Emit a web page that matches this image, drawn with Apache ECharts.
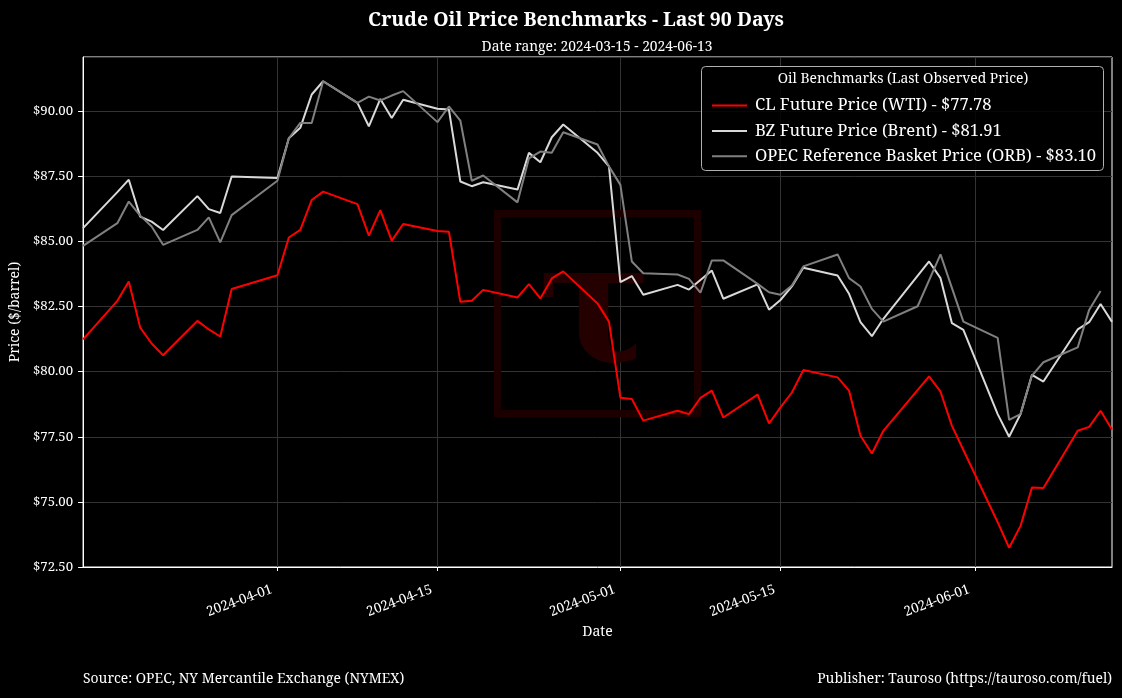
<!DOCTYPE html>
<html><head><meta charset="utf-8">
<script src="https://cdn.jsdelivr.net/npm/echarts@6/dist/echarts.min.js"></script>
<style>html,body{margin:0;padding:0;background:#000}#c{width:1122px;height:698px}</style>
</head><body><div id="c"></div>
<script>
const YEAR = '2024-';
const startDate = '2024-03-15';
const endDate = '2024-06-13';
const xTickLabels = ['2024-04-01','2024-04-15','2024-05-01','2024-05-15','2024-06-01'];
const yTickMin = 72.5, yTickStep = 2.5;

const wtiDates = ['03-15','03-18','03-19','03-20','03-21','03-22','03-25','03-26','03-27','03-28',
 '04-01','04-02','04-03','04-04','04-05','04-08','04-09','04-10','04-11','04-12','04-15','04-16','04-17','04-18','04-19','04-22','04-23','04-24','04-25','04-26','04-29','04-30',
 '05-01','05-02','05-03','05-06','05-07','05-08','05-09','05-10','05-13','05-14','05-15','05-16','05-17','05-20','05-21','05-22','05-23','05-24','05-28','05-29','05-30','05-31',
 '06-03','06-04','06-05','06-06','06-07','06-10','06-11','06-12','06-13'];
const wtiValues = [81.24,82.72,83.46,81.69,81.08,80.63,81.95,81.62,81.35,83.17,
 83.70,85.15,85.44,86.59,86.91,86.43,85.22,86.20,85.03,85.67,85.40,85.37,82.68,82.72,83.14,82.85,83.36,82.81,83.58,83.85,82.62,81.92,
 79.00,78.95,78.12,78.50,78.37,78.99,79.27,78.24,79.12,78.01,78.63,79.20,80.06,79.78,79.27,77.54,76.86,77.73,79.82,79.23,77.92,76.99,
 74.22,73.24,74.08,75.55,75.53,77.73,77.88,78.50,77.78];

const brentDates = wtiDates.slice();
const brentValues = [85.51,86.89,87.37,85.95,85.76,85.44,86.74,86.24,86.09,87.49,
 87.43,88.96,89.36,90.64,91.15,90.32,89.42,90.47,89.74,90.44,90.09,90.06,87.30,87.12,87.27,86.99,88.40,88.04,89.00,89.49,88.40,87.88,
 83.44,83.67,82.95,83.33,83.15,83.52,83.88,82.80,83.35,82.38,82.75,83.27,83.99,83.69,82.99,81.90,81.36,82.03,84.23,83.59,81.86,81.60,
 78.37,77.50,78.37,79.88,79.62,81.62,81.90,82.60,81.91];

const orbDates = ['03-15','03-18','03-19','03-20','03-21','03-22','03-25','03-26','03-27','03-28',
 '04-01','04-02','04-03','04-04','04-05','04-08','04-09','04-10','04-11','04-12','04-15','04-16','04-17','04-18','04-19','04-22','04-23','04-24','04-25','04-26','04-29','04-30',
 '05-01','05-02','05-03','05-06','05-07','05-08','05-09','05-10','05-13','05-14','05-15','05-16','05-17','05-20','05-21','05-22','05-23','05-24','05-27','05-29','05-31',
 '06-03','06-04','06-05','06-06','06-07','06-10','06-11','06-12'];
const orbValues = [84.83,85.70,86.53,85.99,85.57,84.87,85.44,85.92,84.96,86.01,
 87.33,88.96,89.55,89.55,91.15,90.32,90.56,90.41,90.60,90.77,89.58,90.18,89.64,87.33,87.53,86.50,88.19,88.45,88.40,89.19,88.72,87.88,
 87.17,84.23,83.78,83.73,83.56,83.03,84.27,84.27,83.37,83.05,82.95,83.31,84.04,84.50,83.59,83.27,82.41,81.92,82.51,84.50,81.92,
 81.30,78.15,78.37,79.85,80.36,80.93,82.37,83.10];

// category axis: every calendar day in the range
const days = [];
for (let t = Date.UTC(2024,2,15); t <= Date.UTC(2024,5,13); t += 86400000) {
  days.push(new Date(t).toISOString().slice(0,10));
}
const toPairs = (ds, vs) => ds.map((d,i) => [days.indexOf(YEAR + d), vs[i]]);
const last = vs => '$' + vs[vs.length-1].toFixed(2);

const names = [
  'CL Future Price (WTI) - ' + last(wtiValues),
  'BZ Future Price (Brent) - ' + last(brentValues),
  'OPEC Reference Basket Price (ORB) - ' + last(orbValues)
];
const colors = ['#ff0000', '#d9d9d9', '#808080'];
const FONT = "'Noto Serif', 'DejaVu Serif Condensed', 'DejaVu Serif', serif";
const showTick = (i) => xTickLabels.indexOf(days[i]) >= 0;

const chart = echarts.init(document.getElementById('c'), null, {renderer: 'canvas'});
const mkSeries = (name, data, color) => ({
  name, type: 'line', data, symbol: 'none', showSymbol: false, z: 3,
  lineStyle: {color, width: 2}, itemStyle: {color}, animation: false
});

chart.setOption({
  backgroundColor: '#000',
  animation: false,
  textStyle: {fontFamily: FONT, color: '#fff'},
  title: [
    {text: 'Crude Oil Price Benchmarks - Last 90 Days', left: 571, top: 5, textAlign: 'center',
     textStyle: {color: '#fff', fontSize: 19.5, fontWeight: 'bold', fontFamily: FONT}},
    {text: 'Date range: ' + startDate + ' - ' + endDate, left: 592, top: 35, textAlign: 'center',
     textStyle: {color: '#fff', fontSize: 13.8, fontWeight: 'normal', fontFamily: FONT}}
  ],
  grid: {left: 83, right: 10, top: 57, bottom: 131, show: true, borderColor: '#fff', borderWidth: 1, backgroundColor: '#000'},
  legend: {
    z: 30, orient: 'vertical', left: 707, top: 90.5, itemWidth: 35, itemHeight: 2, itemGap: 5.4,
    icon: 'rect', data: names,
    textStyle: {color: '#fff', fontSize: 16.6, fontFamily: FONT, lineHeight: 20, padding: [0,0,0,3]}
  },
  xAxis: {
    type: 'category', data: days, boundaryGap: false,
    name: 'Date', nameLocation: 'middle', nameGap: 58,
    nameTextStyle: {color: '#fff', fontSize: 14, fontFamily: FONT},
    axisLine: {lineStyle: {color: '#fff', width: 1}},
    axisTick: {show: true, interval: (i) => showTick(i), length: 4, lineStyle: {color: '#fff'}},
    axisLabel: {interval: (i) => showTick(i), rotate: 20, margin: 20, padding: [0,6,0,0], color: '#fff', fontSize: 13.5, fontFamily: FONT},
    splitLine: {show: true, interval: (i) => showTick(i), lineStyle: {color: '#333', width: 1}}
  },
  yAxis: {
    type: 'value', min: yTickMin, max: 92.08, interval: yTickStep,
    name: 'Price ($/barrel)', nameLocation: 'middle', nameGap: 60, nameRotate: 90,
    nameTextStyle: {color: '#fff', fontSize: 14, fontFamily: FONT},
    axisLine: {show: true, lineStyle: {color: '#fff', width: 1}},
    axisTick: {show: true, length: 5, lineStyle: {color: '#fff'}},
    axisLabel: {showMaxLabel: false, margin: 10, color: '#fff', fontSize: 13.2, fontFamily: FONT,
      formatter: v => (Math.abs((v - yTickMin) / yTickStep - Math.round((v - yTickMin) / yTickStep)) < 1e-6) ? '$' + v.toFixed(2) : ''},
    splitLine: {show: true, lineStyle: {color: '#333', width: 1}}
  },
  graphic: [
    {type: 'rect', z: 1, silent: true, shape: {x: 497.5, y: 213.5, width: 200, height: 200},
     style: {fill: 'none', stroke: '#1c0000', lineWidth: 7}},
    {type: 'text', z: 1, silent: true, x: 595, y: 318,
     style: {text: 'τ', fill: '#240000', font: "bold 170px 'DejaVu Serif', serif", textAlign: 'center', textVerticalAlign: 'middle'}},
    {type: 'rect', z: 10, silent: true, shape: {x: 701.5, y: 66.5, width: 402, height: 104, r: 4},
     style: {fill: 'rgba(0,0,0,0.85)', stroke: '#b0b0b0', lineWidth: 1}},
    {type: 'text', z: 11, silent: true, x: 903, y: 79,
     style: {text: 'Oil Benchmarks (Last Observed Price)', fill: '#fff', font: "13.9px " + FONT, textAlign: 'center', textVerticalAlign: 'middle'}},
    {type: 'text', z: 11, silent: true, x: 83, y: 679,
     style: {text: 'Source: OPEC, NY Mercantile Exchange (NYMEX)', fill: '#fff', font: "13.9px " + FONT, textAlign: 'left', textVerticalAlign: 'middle'}},
    {type: 'text', z: 11, silent: true, x: 1112, y: 679,
     style: {text: 'Publisher: Tauroso (https://tauroso.com/fuel)', fill: '#fff', font: "13.9px " + FONT, textAlign: 'right', textVerticalAlign: 'middle'}}
  ],
  series: [
    mkSeries(names[0], toPairs(wtiDates, wtiValues), colors[0]),
    mkSeries(names[1], toPairs(brentDates, brentValues), colors[1]),
    mkSeries(names[2], toPairs(orbDates, orbValues), colors[2])
  ]
});
</script></body></html>
